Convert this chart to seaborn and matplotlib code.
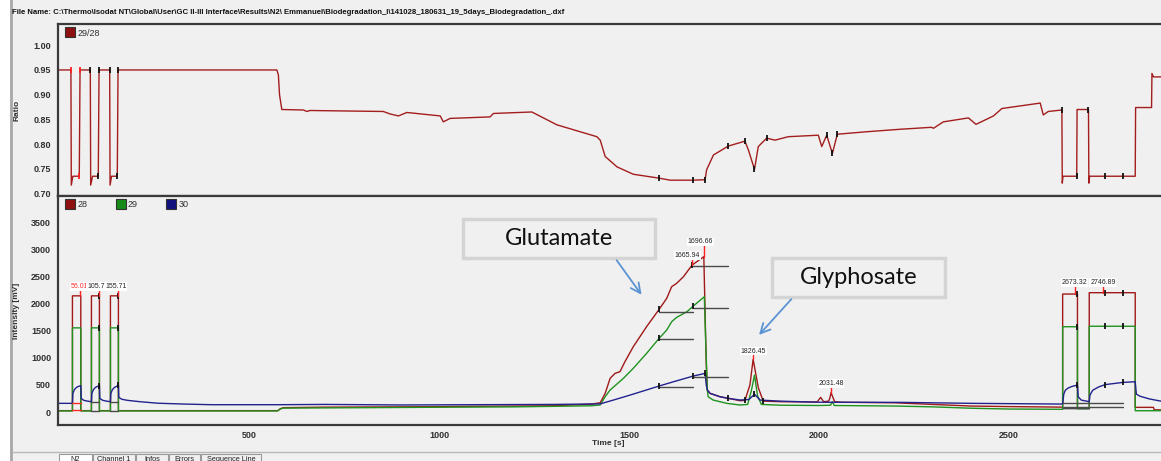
import matplotlib
matplotlib.use("Agg")
import matplotlib.pyplot as plt
from matplotlib.lines import Line2D
from matplotlib.patches import Rectangle
import pandas as pd
import seaborn as sns

FILE_NAME = (r"File Name: C:\Thermo\Isodat NT\Global\User\GC II-III Interface\Results\N2\ "
             r"Emmanuel\Biodegradation_I\141028_180631_19_5days_Biodegradation_.dxf")

# ---- ratio 29/28 trace: (time [s], ratio) ----
ratio_29_28 = [
    (0, 0.95), (31, 0.95), (32, 0.717), (36, 0.735), (53, 0.735), (55, 0.95),
    (82, 0.95), (83, 0.717), (88, 0.735), (103, 0.735), (105, 0.95),
    (133, 0.95), (134, 0.717), (138, 0.735), (153, 0.735), (155, 0.95),
    (300, 0.95), (573, 0.95), (577, 0.94), (580, 0.90), (586, 0.870), (643, 0.869),
    (652, 0.866), (660, 0.868), (853, 0.866), (871, 0.861), (893, 0.857), (915, 0.864),
    (1003, 0.857), (1011, 0.845), (1029, 0.852), (1134, 0.855), (1143, 0.862),
    (1244, 0.865), (1310, 0.839), (1415, 0.815), (1424, 0.808), (1437, 0.775),
    (1468, 0.754), (1511, 0.739), (1580, 0.731), (1608, 0.727), (1669, 0.727),
    (1700, 0.728), (1704, 0.748), (1722, 0.778), (1761, 0.796), (1805, 0.806),
    (1814, 0.788), (1830, 0.749), (1840, 0.795), (1862, 0.812), (1884, 0.808),
    (1919, 0.815), (1998, 0.818), (2007, 0.795), (2020, 0.818), (2035, 0.781),
    (2048, 0.820), (2125, 0.825), (2213, 0.830), (2296, 0.834), (2301, 0.832),
    (2327, 0.845), (2393, 0.853), (2413, 0.840), (2459, 0.857), (2481, 0.872),
    (2582, 0.883), (2590, 0.859), (2603, 0.866), (2639, 0.869), (2640, 0.721),
    (2642, 0.735), (2678, 0.735), (2679, 0.870), (2709, 0.870), (2710, 0.721),
    (2712, 0.735), (2753, 0.735), (2799, 0.735), (2832, 0.735), (2833, 0.874),
    (2875, 0.874), (2876, 0.943), (2880, 0.936), (2900, 0.936),
]

# ---- intensity traces: (time [s], mV) ----
mass_28 = [
    (0, 25), (35, 25), (35, 2140), (57, 2140), (57, 25), (85, 25), (85, 2140),
    (106, 2140), (106, 25), (135, 25), (135, 2140), (156, 2140), (156, 25),
    (575, 25), (582, 60), (590, 80), (700, 90), (900, 95), (1100, 105), (1300, 115),
    (1400, 145), (1424, 171), (1437, 344), (1450, 620), (1463, 712), (1476, 743),
    (1489, 927), (1511, 1203), (1546, 1572), (1579, 1891), (1599, 2094), (1612, 2308),
    (1625, 2370), (1643, 2492), (1665.94, 2708), (1687, 2813), (1696.66, 2861),
    (1703, 900), (1706, 405), (1713, 344), (1739, 282), (1761, 252), (1792, 208),
    (1805, 215), (1818, 500), (1826.45, 970), (1840, 450), (1853, 200), (1900, 190),
    (1995, 185), (2004, 270), (2012, 190), (2025, 200), (2028, 250), (2031.48, 356),
    (2041, 190), (2060, 180), (2200, 170), (2300, 140), (2400, 110), (2500, 100),
    (2641, 90), (2641, 2173), (2680, 2173), (2680, 70), (2711, 70), (2711, 2198),
    (2753, 2198), (2799, 2198), (2832, 2198), (2832, 86), (2880, 86), (2882, 40),
    (2900, 40),
]
mass_29 = [
    (0, 20), (35, 20), (35, 1550), (57, 1550), (57, 20), (85, 20), (85, 1550),
    (106, 1550), (106, 20), (135, 20), (135, 1550), (156, 1550), (156, 20),
    (575, 20), (582, 55), (590, 72), (800, 80), (1000, 88), (1200, 95), (1400, 115),
    (1424, 130), (1437, 282), (1450, 405), (1468, 516), (1485, 620), (1511, 805),
    (1546, 1080), (1579, 1357), (1599, 1510), (1612, 1663), (1625, 1743),
    (1652, 1847), (1669, 1952), (1698, 2124), (1702, 1200), (1706, 400), (1708, 282),
    (1721, 221), (1757, 160), (1792, 129), (1812, 140), (1822, 400), (1830, 681),
    (1838, 300), (1848, 140), (1900, 125), (2000, 120), (2030, 125), (2035, 190),
    (2040, 120), (2200, 110), (2300, 95), (2400, 70), (2500, 55), (2641, 50),
    (2641, 1571), (2680, 1571), (2680, 60), (2711, 60), (2711, 1580), (2753, 1580),
    (2799, 1580), (2832, 1580), (2832, 24), (2900, 24),
]
mass_30 = [
    (0, 160), (35, 160), (36, 340), (40, 410), (45, 450), (50, 470), (57, 485),
    (58, 250), (65, 215), (75, 200), (85, 190), (86, 340), (90, 410), (95, 450),
    (100, 470), (106, 485), (107, 250), (115, 215), (125, 200), (135, 190),
    (136, 340), (140, 410), (145, 450), (150, 470), (156, 490), (157, 270),
    (165, 235), (180, 215), (213, 190), (260, 162), (327, 147), (400, 135),
    (577, 135), (700, 140), (900, 130), (1100, 135), (1300, 140), (1424, 150),
    (1459, 221), (1503, 313), (1579, 479), (1617, 558), (1669, 663), (1700, 712),
    (1703, 500), (1706, 405), (1713, 344), (1739, 282), (1761, 252), (1792, 221),
    (1815, 230), (1830, 326), (1845, 220), (1900, 200), (2000, 180), (2213, 178),
    (2400, 160), (2634, 147), (2641, 150), (2644, 330), (2648, 400), (2655, 440),
    (2665, 470), (2680, 497), (2682, 280), (2690, 220), (2711, 190), (2713, 313),
    (2720, 400), (2735, 460), (2753, 505), (2799, 545), (2832, 558), (2835, 330),
    (2845, 290), (2870, 240), (2900, 200),
]

# peak detection boundaries (times that carry a black tick on each trace)
ratio_ticks = [82, 105, 103, 133, 155, 153, 1580, 1669, 1700, 1761, 1805, 1830,
               1862, 2020, 2035, 2048, 2639, 2678, 2709, 2753, 2799]
ratio_ticks_ref = [31, 55, 53]
ticks_28 = [106, 156, 1579, 1665.94, 1761, 1805, 1853, 2680, 2753, 2799]
ticks_29 = [106, 156, 1579, 1669, 2680, 2753, 2799]
ticks_30 = [106, 156, 1579, 1669, 1700, 1830, 2680, 2753, 2799]

# labelled peaks: retention time, apex height [mV]
peak_times = [56.01, 105.7, 155.71, 1665.94, 1696.66, 1826.45, 2031.48, 2673.32, 2746.89]
peak_heights = [2140, 2140, 2140, 2708, 2861, 970, 356, 2173, 2198]
peak_labels = ["56.01", "105.7", "155.71", "1665.94", "1696.66", "1826.45", "2031.48",
               "2673.32", "2746.89"]

# background lines: (start s, end s, level mV)
background_lines = [
    (1666, 1761, 2695), (1579, 1669, 1848), (1669, 1761, 1922), (1579, 1669, 1339),
    (1669, 1761, 650), (1579, 1669, 466), (85, 106, 180), (85, 106, 25),
    (135, 156, 180), (135, 156, 25), (2641, 2800, 171), (2641, 2800, 98),
    (2641, 2711, 80), (2641, 2711, 70),
]
reference_lines = [(35, 57, 160), (35, 57, 37)]

compounds = ["Glutamate", "Glyphosate"]

# ---- style ----
BG = "#f0f0f0"
C28, C29, C30 = "#a01818", "#1f931f", "#22228f"
CR = "#a41d1d"
TXT = "#303030"

sns.set_style("white", {"axes.facecolor": BG, "figure.facecolor": BG})
plt.rcParams["font.family"] = ["Liberation Sans", "DejaVu Sans"]

W, H = 1161, 461
fig = plt.figure(figsize=(W / 100, H / 100), dpi=100)
fig.patch.set_facecolor(BG)


def fx(px):
    return px / W


def fy(py):
    return 1 - py / H


ax_r = fig.add_axes([fx(58), fy(196), fx(1166 - 58), fy(24) - fy(196)])
ax_i = fig.add_axes([fx(58), fy(425), fx(1166 - 58), fy(196) - fy(425)])


def frame(pairs, name):
    return pd.DataFrame(pairs, columns=["t", name])


def lookup(pairs, t):
    for tt, vv in pairs:
        if tt == t:
            return vv
    raise KeyError(t)


# ---- ratio panel ----
dr = frame(ratio_29_28, "ratio")
sns.lineplot(data=dr, x="t", y="ratio", ax=ax_r, sort=False, estimator=None,
             color=CR, lw=1.0)
ax_r.plot(ratio_ticks, [lookup(ratio_29_28, t) for t in ratio_ticks], ls="",
          marker="|", ms=5, mew=1.3, color="#111111")
ax_r.plot(ratio_ticks_ref, [lookup(ratio_29_28, t) for t in ratio_ticks_ref], ls="",
          marker="|", ms=5, mew=1.3, color="#ff2020")

# ---- intensity panel ----
for pairs, name, col in [(mass_28, "28", C28), (mass_29, "29", C29), (mass_30, "30", C30)]:
    d = frame(pairs, name)
    sns.lineplot(data=d, x="t", y=name, ax=ax_i, sort=False, estimator=None,
                 color=col, lw=1.0)

for t0, t1, lvl in background_lines:
    ax_i.plot([t0, t1], [lvl, lvl], color="#4a4a4a", lw=1.0, zorder=4)
for t0, t1, lvl in reference_lines:
    ax_i.plot([t0, t1], [lvl, lvl], color="#ff2a2a", lw=1.0, zorder=4)

for pairs, ticks in [(mass_28, ticks_28), (mass_29, ticks_29), (mass_30, ticks_30)]:
    ax_i.plot(ticks, [lookup(pairs, t) for t in ticks], ls="", marker="|", ms=5,
              mew=1.3, color="#111111", zorder=5)

# label placement: horizontal nudge [s] and gap above the apex [mV]
label_nudge = [-3, -9, -6, -12, -9, 0, 0, 0, 0]
label_gap = [110, 110, 110, 110, 210, 85, 105, 150, 125]
for i, (pt, ph, lab) in enumerate(zip(peak_times, peak_heights, peak_labels)):
    gap = label_gap[i]
    ax_i.plot([pt, pt], [ph, ph + gap], color="#ff2020", lw=1.0, zorder=5)
    ax_i.text(pt + label_nudge[i], ph + gap, lab, ha="center", va="bottom",
              fontsize=5.0, color="#ff2a2a" if i == 0 else "#222222", zorder=6,
              bbox=dict(fc="white", ec="none", pad=0.5))

# compound call-outs
boxes = [(1063, 1568, 2837, 3555), (1876, 2332, 2118, 2837)]
arrows = [((1463, 2837), (1537, 2118)), ((1932, 2118), (1837, 1382))]
for name, (x0, x1, y0, y1), (start, end) in zip(compounds, boxes, arrows):
    ax_i.add_patch(Rectangle((x0, y0), x1 - x0, y1 - y0, fc=BG, ec="#d4d4d4",
                             lw=2.5, zorder=7))
    ax_i.text((x0 + x1) / 2, (y0 + y1) / 2, name, ha="center", va="center",
              fontsize=17, family=["Lato", "DejaVu Sans"], color="#111111", zorder=8)
    ax_i.annotate("", xy=end, xytext=start, zorder=8,
                  arrowprops=dict(arrowstyle="->,head_length=0.7,head_width=0.35",
                                  color="#5b93d3", lw=1.3))

# ---- axes styling ----
for ax in (ax_r, ax_i):
    ax.set_xlim(-3, 2913)
    for s in ax.spines.values():
        s.set_color("#3a3a3a")
        s.set_linewidth(1.6)
    ax.tick_params(axis="both", direction="out", length=3.5, width=1, color="#3a3a3a",
                   labelsize=6.5, labelcolor=TXT, pad=1.5)

ax_r.set_ylim(0.695, 1.043)
ax_r.set_yticks([0.70, 0.75, 0.80, 0.85, 0.90, 0.95, 1.00])
ax_r.set_yticklabels([f"{v:.2f}" for v in [0.70, 0.75, 0.80, 0.85, 0.90, 0.95, 1.00]],
                     fontweight="bold")
ax_r.set_xticks([])
ax_r.set_xlabel("")
ax_r.set_ylabel("Ratio", fontsize=6, color=TXT, fontweight="bold")
ax_r.yaxis.set_label_coords(-0.034, 0.5)

ax_i.set_ylim(-239, 3979)
ax_i.set_yticks(range(0, 4000, 500))
ax_i.set_yticklabels([str(v) for v in range(0, 4000, 500)], fontweight="bold")
ax_i.set_xticks([500, 1000, 1500, 2000, 2500])
ax_i.set_xticklabels(["500", "1000", "1500", "2000", "2500"], fontweight="bold")
ax_i.tick_params(axis="x", length=4, pad=0.5)
ax_i.set_ylabel("Intensity [mV]", fontsize=6, color=TXT, fontweight="bold")
ax_i.yaxis.set_label_coords(-0.034, 0.5)
ax_i.set_xlabel("Time [s]", fontsize=6, color=TXT, fontweight="bold")
ax_i.xaxis.set_label_coords(0.497, -0.066)

# legends
def key(col, lab):
    return Line2D([], [], ls="", marker="s", ms=6.5, mfc=col, mec="#333333", mew=0.8,
                  label=lab)


leg_r = ax_r.legend(handles=[key("#8e1010", "29/28")], loc="upper left",
                    bbox_to_anchor=(0.002, 1.01), frameon=False, fontsize=6.5,
                    handlelength=0.8, handletextpad=0.4, borderaxespad=0.3)
leg_i = ax_i.legend(handles=[key("#8e1010", "28"), key("#178a17", "29"),
                             key("#12127f", "30")],
                    loc="upper left", bbox_to_anchor=(0.002, 1.01), ncol=3,
                    frameon=False, fontsize=6.5, handlelength=0.8,
                    handletextpad=0.4, columnspacing=3.3, borderaxespad=0.3)
for lg in (leg_r, leg_i):
    for t in lg.get_texts():
        t.set_color(TXT)

# ---- window chrome ----
chrome = fig.add_axes([0, 0, 1, 1], zorder=-5)
chrome.set_xlim(0, W)
chrome.set_ylim(H, 0)
chrome.axis("off")
chrome.add_patch(Rectangle((0, 0), 10, H, fc="white", ec="none"))
chrome.plot([11, 11], [0, H], color="#a8a8a8", lw=2)
chrome.plot([12, W], [452, 452], color="#b8b8b8", lw=1)
fig.text(fx(12), fy(12), FILE_NAME, fontsize=5.6, fontweight="bold", color="#111111",
         va="center", ha="left")

tabs = ["N2", "Channel 1", "Infos", "Errors", "Sequence Line"]
tab_w = [33, 42, 32, 31, 60]
x = 59
for i, (name, w) in enumerate(zip(tabs, tab_w)):
    chrome.add_patch(Rectangle((x, 454), w, 10, fc="white" if i == 0 else BG,
                               ec="#9a9a9a", lw=0.8))
    chrome.text(x + w / 2, 459, name, fontsize=5.3, ha="center", va="center",
                color="#222222")
    x += w + 1

fig.savefig("out.png", dpi=100, facecolor=BG)
